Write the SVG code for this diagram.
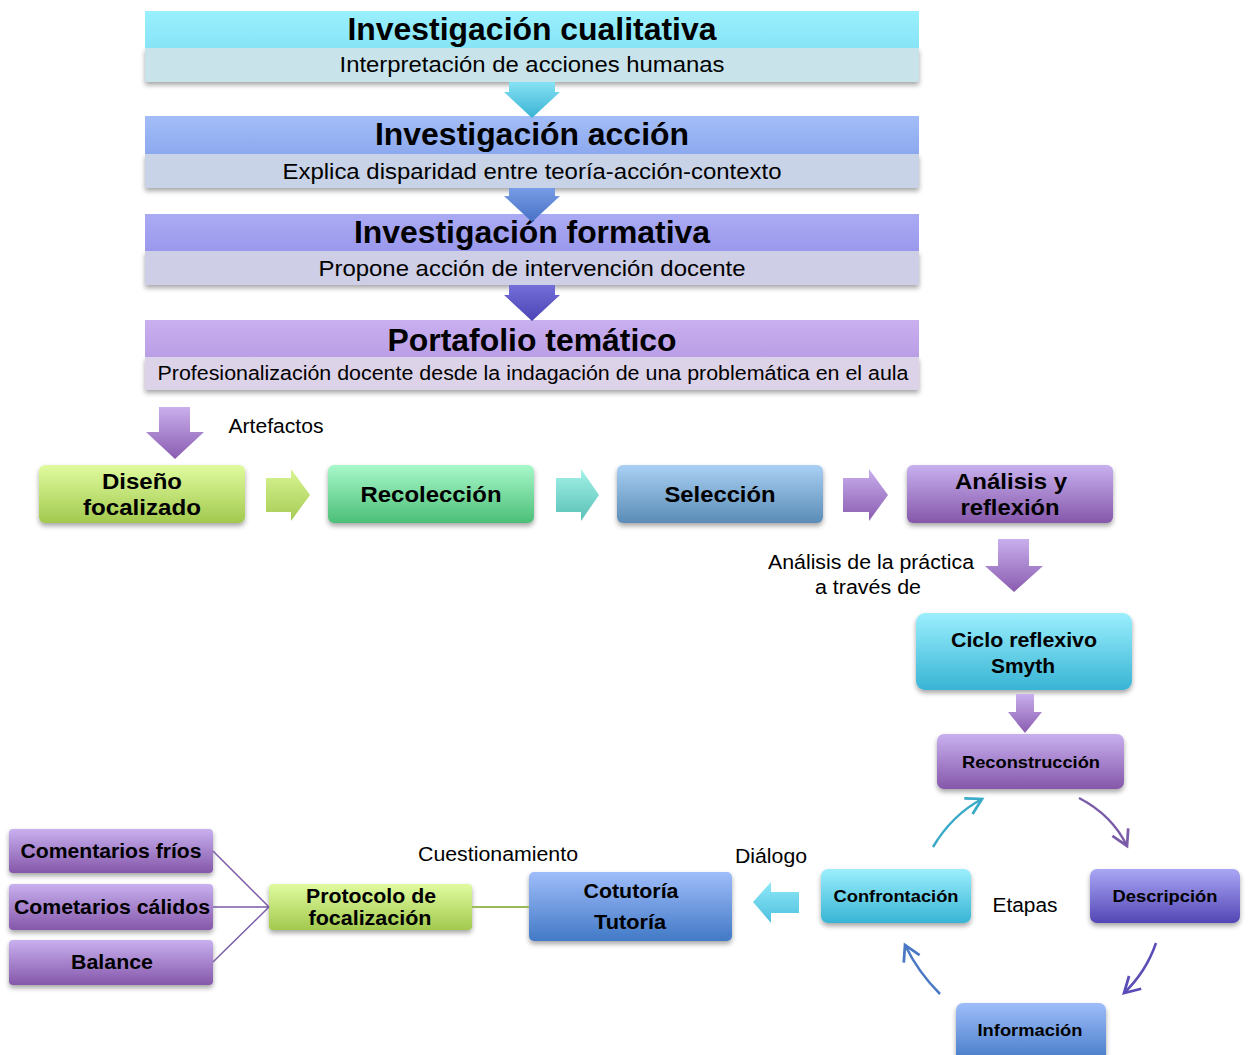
<svg xmlns="http://www.w3.org/2000/svg" width="1249" height="1055" viewBox="0 0 1249 1055">
<defs>
<style>
.t{font-family:"Liberation Sans",Arial,sans-serif;fill:#000;text-anchor:middle}
.b{font-weight:bold}
.n{font-weight:normal}
</style>
<filter id="sh" x="-10%" y="-20%" width="120%" height="160%">
<feDropShadow dx="0" dy="3" stdDeviation="2.5" flood-color="#000" flood-opacity="0.35"/>
</filter>
<linearGradient id="gCyanBand" x1="0" y1="0" x2="0" y2="1"><stop offset="0" stop-color="#9AF0FD"/><stop offset="1" stop-color="#86E4F6"/></linearGradient>
<linearGradient id="gBlueBand" x1="0" y1="0" x2="0" y2="1"><stop offset="0" stop-color="#A3BDF8"/><stop offset="1" stop-color="#8DA9EE"/></linearGradient>
<linearGradient id="gVioBand" x1="0" y1="0" x2="0" y2="1"><stop offset="0" stop-color="#ABABF4"/><stop offset="1" stop-color="#9A98EC"/></linearGradient>
<linearGradient id="gPurBand" x1="0" y1="0" x2="0" y2="1"><stop offset="0" stop-color="#C9B0EF"/><stop offset="1" stop-color="#BA9EE6"/></linearGradient>
<linearGradient id="gYG" x1="0" y1="0" x2="0" y2="1"><stop offset="0" stop-color="#E0FB9E"/><stop offset="1" stop-color="#A2C94E"/></linearGradient>
<linearGradient id="gGr" x1="0" y1="0" x2="0" y2="1"><stop offset="0" stop-color="#A8F8CA"/><stop offset="1" stop-color="#4BBF78"/></linearGradient>
<linearGradient id="gSt" x1="0" y1="0" x2="0" y2="1"><stop offset="0" stop-color="#AAD0F4"/><stop offset="1" stop-color="#5A8CB6"/></linearGradient>
<linearGradient id="gPu" x1="0" y1="0" x2="0" y2="1"><stop offset="0" stop-color="#C8B0EF"/><stop offset="1" stop-color="#8557AA"/></linearGradient>
<linearGradient id="gCy" x1="0" y1="0" x2="0" y2="1"><stop offset="0" stop-color="#9BEFFD"/><stop offset="1" stop-color="#38B4D5"/></linearGradient>
<linearGradient id="gVi" x1="0" y1="0" x2="0" y2="1"><stop offset="0" stop-color="#AAA7F5"/><stop offset="1" stop-color="#5346B5"/></linearGradient>
<linearGradient id="gBl" x1="0" y1="0" x2="0" y2="1"><stop offset="0" stop-color="#9FBDFA"/><stop offset="1" stop-color="#4279C6"/></linearGradient>
<linearGradient id="aCy" x1="0" y1="0" x2="0" y2="1"><stop offset="0" stop-color="#86E2F4"/><stop offset="1" stop-color="#3AB3D4"/></linearGradient>
<linearGradient id="aBl" x1="0" y1="0" x2="0" y2="1"><stop offset="0" stop-color="#789DE6"/><stop offset="1" stop-color="#4770C6"/></linearGradient>
<linearGradient id="aVi" x1="0" y1="0" x2="0" y2="1"><stop offset="0" stop-color="#736ED8"/><stop offset="1" stop-color="#4C45B6"/></linearGradient>
<linearGradient id="aPu" x1="0" y1="0" x2="0" y2="1"><stop offset="0" stop-color="#C9AFED"/><stop offset="1" stop-color="#8A5CB0"/></linearGradient>
<linearGradient id="aYG" x1="0" y1="0" x2="0" y2="1"><stop offset="0" stop-color="#D8F592"/><stop offset="1" stop-color="#A6CB55"/></linearGradient>
<linearGradient id="aTe" x1="0" y1="0" x2="0" y2="1"><stop offset="0" stop-color="#A4F2E8"/><stop offset="1" stop-color="#58C0B6"/></linearGradient>
<linearGradient id="aCyH" x1="0" y1="0" x2="0" y2="1"><stop offset="0" stop-color="#8FE8F8"/><stop offset="1" stop-color="#4EC0DE"/></linearGradient>
<marker id="mP" viewBox="0 0 20 20" refX="17" refY="10" markerWidth="22" markerHeight="22" markerUnits="userSpaceOnUse" orient="auto"><path d="M3,2 L17,10 L3,18" fill="none" stroke="#7A5CA8" stroke-width="2.5"/></marker>
<marker id="mV" viewBox="0 0 20 20" refX="17" refY="10" markerWidth="22" markerHeight="22" markerUnits="userSpaceOnUse" orient="auto"><path d="M3,2 L17,10 L3,18" fill="none" stroke="#5A4DB8" stroke-width="2.5"/></marker>
<marker id="mB" viewBox="0 0 20 20" refX="17" refY="10" markerWidth="22" markerHeight="22" markerUnits="userSpaceOnUse" orient="auto"><path d="M3,2 L17,10 L3,18" fill="none" stroke="#4A78C4" stroke-width="2.5"/></marker>
<marker id="mC" viewBox="0 0 20 20" refX="17" refY="10" markerWidth="22" markerHeight="22" markerUnits="userSpaceOnUse" orient="auto"><path d="M3,2 L17,10 L3,18" fill="none" stroke="#3BAAC8" stroke-width="2.5"/></marker>
</defs>
<rect width="1249" height="1055" fill="#fff"/>

<!-- top bands -->
<g id="band1">
<rect x="145" y="48" width="774" height="34" fill="#C8E3EA" filter="url(#sh)"/>
<rect x="145" y="11" width="774" height="37" fill="url(#gCyanBand)"/>
<text class="t b" x="532" y="40" font-size="31" textLength="369" lengthAdjust="spacingAndGlyphs">Investigación cualitativa</text>
<text class="t n" x="532" y="72" font-size="22" textLength="385" lengthAdjust="spacingAndGlyphs">Interpretación de acciones humanas</text>
</g>
<g id="band2">
<rect x="145" y="154" width="774" height="34" fill="#C9D3E8" filter="url(#sh)"/>
<rect x="145" y="116" width="774" height="38" fill="url(#gBlueBand)"/>
<text class="t b" x="532" y="145" font-size="31" textLength="314" lengthAdjust="spacingAndGlyphs">Investigación acción</text>
<text class="t n" x="532" y="179" font-size="22" textLength="499" lengthAdjust="spacingAndGlyphs">Explica disparidad entre teoría-acción-contexto</text>
</g>
<g id="band3">
<rect x="145" y="251" width="774" height="34" fill="#CECEE6" filter="url(#sh)"/>
<rect x="145" y="214" width="774" height="37" fill="url(#gVioBand)"/>
<text class="t b" x="532" y="243" font-size="31" textLength="356" lengthAdjust="spacingAndGlyphs">Investigación formativa</text>
<text class="t n" x="532" y="276" font-size="22" textLength="427" lengthAdjust="spacingAndGlyphs">Propone acción de intervención docente</text>
</g>
<g id="band4">
<rect x="145" y="357" width="774" height="33" fill="#DCD3E8" filter="url(#sh)"/>
<rect x="145" y="320" width="774" height="37" fill="url(#gPurBand)"/>
<text class="t b" x="532" y="351" font-size="31" textLength="289" lengthAdjust="spacingAndGlyphs">Portafolio temático</text>
<text class="t n" x="533" y="380" font-size="20" textLength="751" lengthAdjust="spacingAndGlyphs">Profesionalización docente desde la indagación de una problemática en el aula</text>
</g>

<g id="labels">
<text class="t n" x="276" y="433" font-size="20" textLength="95" lengthAdjust="spacingAndGlyphs">Artefactos</text>
<text class="t n" x="871" y="569" font-size="20" textLength="206" lengthAdjust="spacingAndGlyphs">Análisis de la práctica</text>
<text class="t n" x="868" y="594" font-size="20" textLength="106" lengthAdjust="spacingAndGlyphs">a través de</text>
<text class="t n" x="1025" y="912" font-size="20" textLength="65" lengthAdjust="spacingAndGlyphs">Etapas</text>
<text class="t n" x="771" y="863" font-size="20" textLength="72" lengthAdjust="spacingAndGlyphs">Diálogo</text>
<text class="t n" x="498" y="861" font-size="20" textLength="160" lengthAdjust="spacingAndGlyphs">Cuestionamiento</text>
</g>

<!-- row nodes -->
<g id="diseno">
<rect x="39" y="465" width="206" height="58" rx="6" fill="url(#gYG)" filter="url(#sh)"/>
<text class="t b" x="142" y="489" font-size="22" textLength="80" lengthAdjust="spacingAndGlyphs">Diseño</text>
<text class="t b" x="142" y="515" font-size="22" textLength="118" lengthAdjust="spacingAndGlyphs">focalizado</text>
</g>
<g id="recoleccion">
<rect x="328" y="465" width="206" height="58" rx="6" fill="url(#gGr)" filter="url(#sh)"/>
<text class="t b" x="431" y="502" font-size="22" textLength="141" lengthAdjust="spacingAndGlyphs">Recolección</text>
</g>
<g id="seleccion">
<rect x="617" y="465" width="206" height="58" rx="6" fill="url(#gSt)" filter="url(#sh)"/>
<text class="t b" x="720" y="502" font-size="22" textLength="111" lengthAdjust="spacingAndGlyphs">Selección</text>
</g>
<g id="analisis">
<rect x="907" y="465" width="206" height="58" rx="6" fill="url(#gPu)" filter="url(#sh)"/>
<text class="t b" x="1011" y="489" font-size="22" textLength="112" lengthAdjust="spacingAndGlyphs">Análisis y</text>
<text class="t b" x="1010" y="515" font-size="22" textLength="99" lengthAdjust="spacingAndGlyphs">reflexión</text>
</g>
<g id="ciclo">
<rect x="916" y="613" width="216" height="77" rx="9" fill="url(#gCy)" filter="url(#sh)"/>
<text class="t b" x="1024" y="647" font-size="20" textLength="146" lengthAdjust="spacingAndGlyphs">Ciclo reflexivo</text>
<text class="t b" x="1023" y="673" font-size="20" textLength="64" lengthAdjust="spacingAndGlyphs">Smyth</text>
</g>
<g id="reconstruccion">
<rect x="937" y="734" width="187" height="55" rx="7" fill="url(#gPu)" filter="url(#sh)"/>
<text class="t b" x="1031" y="768" font-size="17" textLength="138" lengthAdjust="spacingAndGlyphs">Reconstrucción</text>
</g>
<g id="descripcion">
<rect x="1090" y="869" width="150" height="54" rx="7" fill="url(#gVi)" filter="url(#sh)"/>
<text class="t b" x="1165" y="902" font-size="17" textLength="105" lengthAdjust="spacingAndGlyphs">Descripción</text>
</g>
<g id="informacion">
<rect x="956" y="1003" width="150" height="60" rx="7" fill="url(#gBl)" filter="url(#sh)"/>
<text class="t b" x="1030" y="1036" font-size="17" textLength="105" lengthAdjust="spacingAndGlyphs">Información</text>
</g>
<g id="confrontacion">
<rect x="821" y="869" width="150" height="54" rx="7" fill="url(#gCy)" filter="url(#sh)"/>
<text class="t b" x="896" y="902" font-size="17" textLength="125" lengthAdjust="spacingAndGlyphs">Confrontación</text>
</g>
<g id="cotutoria">
<rect x="529" y="872" width="203" height="69" rx="5" fill="url(#gBl)" filter="url(#sh)"/>
<text class="t b" x="631" y="898" font-size="20" textLength="95" lengthAdjust="spacingAndGlyphs">Cotutoría</text>
<text class="t b" x="630" y="929" font-size="20" textLength="72" lengthAdjust="spacingAndGlyphs">Tutoría</text>
</g>
<g id="protocolo">
<rect x="269" y="884" width="203" height="46" rx="4" fill="url(#gYG)" filter="url(#sh)"/>
<text class="t b" x="371" y="903" font-size="20" textLength="130" lengthAdjust="spacingAndGlyphs">Protocolo de</text>
<text class="t b" x="370" y="925" font-size="20" textLength="123" lengthAdjust="spacingAndGlyphs">focalización</text>
</g>
<g id="frios">
<rect x="9" y="829" width="204" height="44" rx="4" fill="url(#gPu)" filter="url(#sh)"/>
<text class="t b" x="111" y="858" font-size="20" textLength="181" lengthAdjust="spacingAndGlyphs">Comentarios fríos</text>
</g>
<g id="calidos">
<rect x="9" y="884" width="204" height="46" rx="4" fill="url(#gPu)" filter="url(#sh)"/>
<text class="t b" x="112" y="914" font-size="20" textLength="196" lengthAdjust="spacingAndGlyphs">Cometarios cálidos</text>
</g>
<g id="balance">
<rect x="9" y="940" width="204" height="45" rx="4" fill="url(#gPu)" filter="url(#sh)"/>
<text class="t b" x="112" y="969" font-size="20" textLength="82" lengthAdjust="spacingAndGlyphs">Balance</text>
</g>

<!-- connectors -->
<g id="connectors">
<path d="M509,82 H555 V92 H560 L532,118 L504,92 H509 Z" fill="url(#aCy)"/>
<path d="M509,188 H555 V196 H560 L532,222 L504,196 H509 Z" fill="url(#aBl)"/>
<path d="M509,285 H555 V295 H560 L532,321 L504,295 H509 Z" fill="url(#aVi)"/>
<path d="M159,407 H190 V432 H204 L175,459 L146,432 H159 Z" fill="url(#aPu)"/>
<path d="M266,478 H291 V469 L310,495 L291,521 V512 H266 Z" fill="url(#aYG)"/>
<path d="M556,478 H581 V469 L599,495 L581,521 V512 H556 Z" fill="url(#aTe)"/>
<path d="M843,478 H869 V469 L888,495 L869,521 V512 H843 Z" fill="url(#aPu)"/>
<path d="M998,539 H1029 V566 H1043 L1014,592 L985,566 H998 Z" fill="url(#aPu)"/>
<path d="M1016,694 H1034 V712 H1042 L1025,733 L1008,712 H1016 Z" fill="url(#aPu)"/>
<path d="M799,892 H771 V882 L753,902 L771,923 V913 H799 Z" fill="url(#aCyH)"/>
<path d="M1079,798 Q1112,815 1127,846" fill="none" stroke="#7A5CA8" stroke-width="2.5" marker-end="url(#mP)"/>
<path d="M1156,943 Q1146,972 1124,993" fill="none" stroke="#5A4DB8" stroke-width="2.5" marker-end="url(#mV)"/>
<path d="M940,994 Q918,972 905,945" fill="none" stroke="#4A78C4" stroke-width="2.5" marker-end="url(#mB)"/>
<path d="M933,847 Q952,815 982,799" fill="none" stroke="#3BAAC8" stroke-width="2.5" marker-end="url(#mC)"/>
<line x1="472" y1="907" x2="529" y2="907" stroke="#9BBB59" stroke-width="2"/>
<path d="M213,851 L269,907 M213,907 L269,907 M213,962 L269,907" fill="none" stroke="#7A5CA8" stroke-width="1.5"/>
</g>
</svg>
